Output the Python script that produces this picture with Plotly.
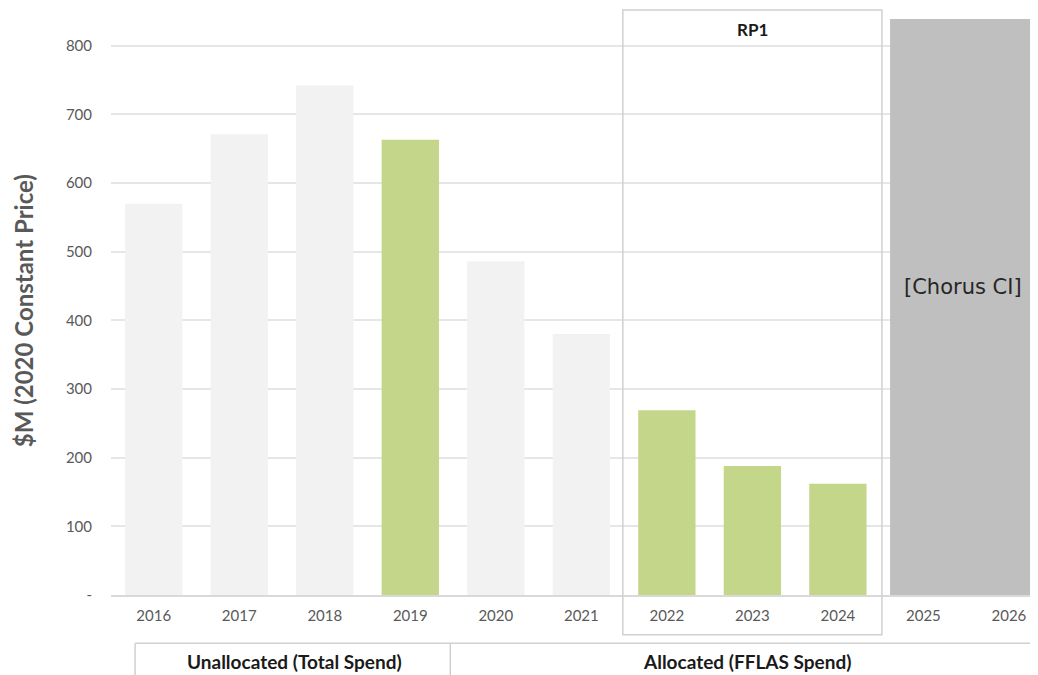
import plotly.graph_objects as go

# data
years = ['2016', '2017', '2018', '2019', '2020', '2021', '2022', '2023', '2024', '2025', '2026']
spend = [570, 671, 742, 663, 486, 380, 269, 188, 162, None, None]
bar_colors = ['#F2F2F2', '#F2F2F2', '#F2F2F2', '#C4D68A', '#F2F2F2', '#F2F2F2',
              '#C4D68A', '#C4D68A', '#C4D68A', '#F2F2F2', '#F2F2F2']
y_ticks = [0, 100, 200, 300, 400, 500, 600, 700, 800]
y_tick_text = ['-', '100', '200', '300', '400', '500', '600', '700', '800']

# redacted block over 2025-2026
redacted_years = ['2025']
redacted_height = [839]

FONT = 'Lato'
GREY = '#595959'

fig = go.Figure()

fig.add_trace(go.Bar(
    x=years, y=spend,
    marker=dict(color=bar_colors, line=dict(width=0)),
    hoverinfo='skip', showlegend=False
))

fig.add_trace(go.Bar(
    x=redacted_years, y=redacted_height,
    width=1.9, offset=-0.39,
    marker=dict(color='#BFBFBF', line=dict(width=0)),
    hoverinfo='skip', showlegend=False
))

# RP1 outline box
fig.add_shape(type='rect', xref='x', yref='paper',
              x0=5.485, x1=8.515, y0=-0.068, y1=1.0,
              line=dict(color='#D0D0D0', width=1.5), fillcolor='rgba(0,0,0,0)',
              layer='above')

# bottom group boxes
fig.add_shape(type='line', xref='paper', yref='paper',
              x0=0.026, x1=1.0, y0=-0.0825, y1=-0.0825,
              line=dict(color='#D0D0D0', width=1.5))
fig.add_shape(type='line', xref='paper', yref='paper',
              x0=0.026, x1=0.026, y0=-0.0825, y1=-0.14,
              line=dict(color='#D0D0D0', width=1.5))
fig.add_shape(type='line', xref='paper', yref='paper',
              x0=0.366, x1=0.366, y0=-0.0825, y1=-0.14,
              line=dict(color='#D0D0D0', width=1.5))

fig.add_annotation(x=7.0, y=823, xref='x', yref='y', text='<b>RP1</b>',
                   xanchor='center', yanchor='middle',
                   showarrow=False, font=dict(family=FONT, size=17, color='#1a1a1a'))
fig.add_annotation(x=0.919, y=0.526, xref='paper', yref='paper', text='[Chorus CI]',
                   xanchor='center', yanchor='middle',
                   showarrow=False, font=dict(family='DejaVu Sans', size=21, color='#262626'))
fig.add_annotation(x=0.198, y=-0.113, xref='paper', yref='paper',
                   text='<b>Unallocated (Total Spend)</b>',
                   xanchor='center', yanchor='middle',
                   showarrow=False, font=dict(family=FONT, size=19, color='#1a1a1a'))
fig.add_annotation(x=0.686, y=-0.113, xref='paper', yref='paper',
                   text='<b>Allocated (FFLAS Spend)</b>',
                   xanchor='center', yanchor='middle',
                   showarrow=False, font=dict(family=FONT, size=19, color='#1a1a1a'))
fig.add_annotation(x=0, xshift=-88, y=0.485, xref='paper', yref='paper',
                   text='<b>$M (2020 Constant Price)</b>', textangle=-90,
                   xanchor='center', yanchor='middle',
                   showarrow=False, font=dict(family=FONT, size=24, color=GREY))

# the page puts the figure 8px in from the top-left corner
fig.update_layout(
    width=1030, height=667,
    margin=dict(l=103, r=0, t=2, b=80),
    paper_bgcolor='white', plot_bgcolor='white',
    bargap=0.33, barmode='overlay',
    font=dict(family=FONT, size=15, color=GREY),
    xaxis=dict(
        type='category', range=[-0.5, 10.34],
        showgrid=False, showline=True, linecolor='#D9D9D9', linewidth=1.5,
        ticks='', tickfont=dict(family=FONT, size=15, color=GREY),
        ticklabelstandoff=6
    ),
    yaxis=dict(
        range=[0, 852], tickvals=y_ticks, ticktext=y_tick_text,
        showgrid=True, gridcolor='#E6E6E6', gridwidth=1.5,
        zeroline=False, showline=False, ticks='',
        tickfont=dict(family=FONT, size=15, color=GREY),
        ticklabelstandoff=18
    )
)

fig.write_html("out.html")
